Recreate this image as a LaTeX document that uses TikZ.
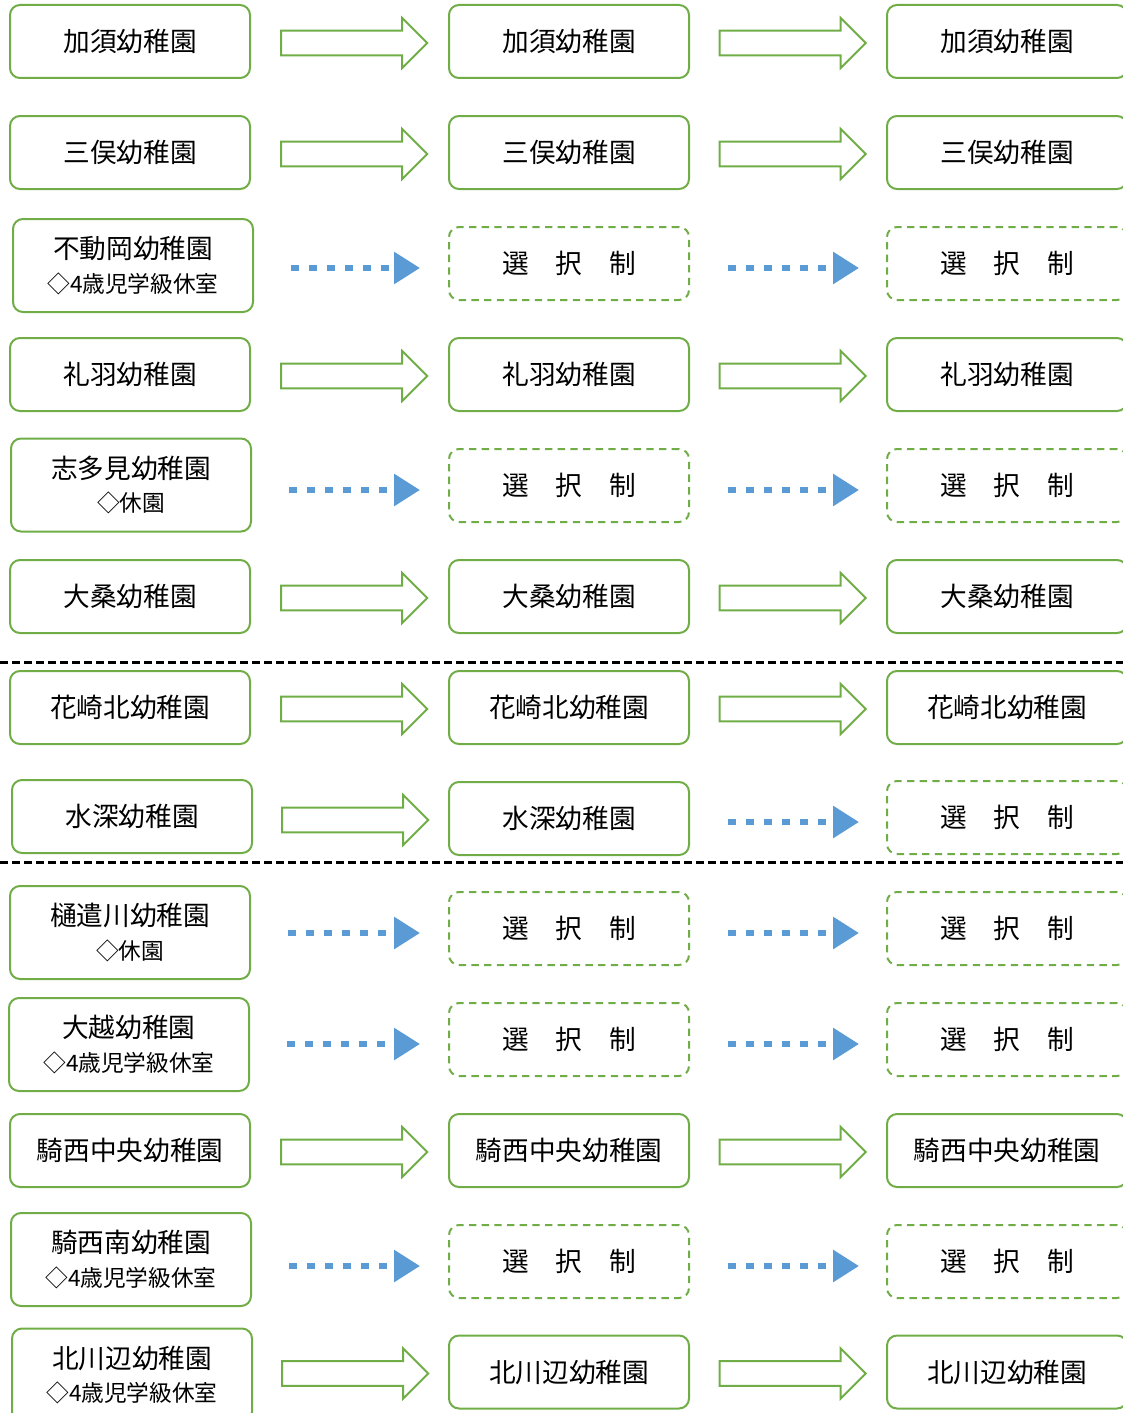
\documentclass[tikz,border=0pt]{standalone}
\usepackage{fontspec}
\setmainfont{Noto Sans CJK JP}
\usetikzlibrary{shapes.arrows,arrows.meta,calc}
\definecolor{engreen}{HTML}{70AD47}
\definecolor{enblue}{HTML}{5B9BD5}
\newcommand{\subline}[1]{{\fontsize{17}{20}\selectfont #1}}
\begin{document}
\begin{tikzpicture}[x=0.75pt,y=-0.75pt,
    gardenbox/.style={draw=engreen,line width=1.5pt,rounded corners=7.5pt,minimum width=180pt,minimum height=54.75pt,inner sep=0pt,align=center,font=\fontsize{20}{25}\selectfont},
    tallbox/.style={gardenbox,minimum height=69.75pt},
    choicebox/.style={gardenbox,dash pattern=on 5.5pt off 4pt},
    fatarrow/.style={single arrow,draw=engreen,line width=1.5pt,minimum height=109.5pt,inner sep=0pt,inner ysep=8.6pt,single arrow head extend=9.4pt},
    dotarrow/.style={draw=enblue,line width=4.5pt,dash pattern=on 6.2pt off 7.3pt,-{Triangle[length=19.5pt,width=23.25pt,fill=enblue]}},
    cutline/.style={line width=2.25pt,dash pattern=on 6pt off 3pt}]
  \useasboundingbox(0,0)rectangle(1123,1413);
  \node[gardenbox](a1)at(130,41.5){加須幼稚園};
  \node[gardenbox](a2)at(130,152.5){三俣幼稚園};
  \node[tallbox](a3)at(133,265.5){不動岡幼稚園\\\subline{◇4歳児学級休室}};
  \node[gardenbox](a4)at(130,374.5){礼羽幼稚園};
  \node[tallbox](a5)at(131,485){志多見幼稚園\\\subline{◇休園}};
  \node[gardenbox](a6)at(130,596.5){大桑幼稚園};
  \node[gardenbox](a7)at(130,707.5){花崎北幼稚園};
  \node[gardenbox](a8)at(132,816.5){水深幼稚園};
  \node[tallbox](a9)at(130,932.5){樋遣川幼稚園\\\subline{◇休園}};
  \node[tallbox](a10)at(129,1044.5){大越幼稚園\\\subline{◇4歳児学級休室}};
  \node[gardenbox](a11)at(130,1150.5){騎西中央幼稚園};
  \node[tallbox](a12)at(131,1259.5){騎西南幼稚園\\\subline{◇4歳児学級休室}};
  \node[tallbox](a13)at(132,1375){北川辺幼稚園\\\subline{◇4歳児学級休室}};
  \node[gardenbox](b1)at(569,41.5){加須幼稚園};
  \node[gardenbox](b2)at(569,152.5){三俣幼稚園};
  \node[choicebox](b3)at(569,263.5){選　択　制};
  \node[gardenbox](b4)at(569,374.5){礼羽幼稚園};
  \node[choicebox](b5)at(569,485.5){選　択　制};
  \node[gardenbox](b6)at(569,596.5){大桑幼稚園};
  \node[gardenbox](b7)at(569,707.5){花崎北幼稚園};
  \node[gardenbox](b8)at(569,818.5){水深幼稚園};
  \node[choicebox](b9)at(569,928.5){選　択　制};
  \node[choicebox](b10)at(569,1039.5){選　択　制};
  \node[gardenbox](b11)at(569,1150.5){騎西中央幼稚園};
  \node[choicebox](b12)at(569,1261.5){選　択　制};
  \node[gardenbox](b13)at(569,1372){北川辺幼稚園};
  \node[gardenbox](c1)at(1007,41.5){加須幼稚園};
  \node[gardenbox](c2)at(1007,152.5){三俣幼稚園};
  \node[choicebox](c3)at(1007,263.5){選　択　制};
  \node[gardenbox](c4)at(1007,374.5){礼羽幼稚園};
  \node[choicebox](c5)at(1007,485.5){選　択　制};
  \node[gardenbox](c6)at(1007,596.5){大桑幼稚園};
  \node[gardenbox](c7)at(1007,707.5){花崎北幼稚園};
  \node[choicebox](c8)at(1007,817.5){選　択　制};
  \node[choicebox](c9)at(1007,928.5){選　択　制};
  \node[choicebox](c10)at(1007,1039.5){選　択　制};
  \node[gardenbox](c11)at(1007,1150.5){騎西中央幼稚園};
  \node[choicebox](c12)at(1007,1261.5){選　択　制};
  \node[gardenbox](c13)at(1007,1372){北川辺幼稚園};
  \foreach \i in {1,2,4,6,7,8,11,13}
    \node[fatarrow](fa\i)at($(a\i.east|-b\i.west)!.5!(b\i.west)+(-1.5,1.5)$){};
  \foreach \i in {1,2,4,6,7,11,13}
    \node[fatarrow](fb\i)at($(b\i.east)!.5!(c\i.west)+(-1.5,1.5)$){};
  \foreach \i in {3,5,9,10,12}
    \draw[dotarrow]($(a\i.east|-b\i.west)+(37,4.5)$)--($(b\i.west)+(-28,4.5)$);
  \foreach \i in {3,5,8,9,10,12}
    \draw[dotarrow]($(b\i.east|-c\i.west)+(38,4.5)$)--($(c\i.west)+(-27,4.5)$);
  \draw[cutline](0,662)--(1123,662);
  \draw[cutline](0,862)--(1123,862);
\end{tikzpicture}
\end{document}
